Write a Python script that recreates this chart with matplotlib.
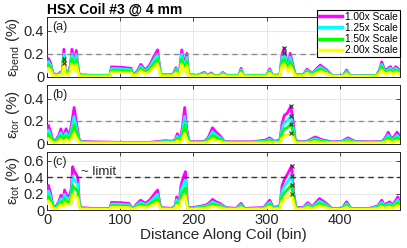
import numpy as np
import matplotlib
matplotlib.use("Agg")
import matplotlib.pyplot as plt
from matplotlib.ticker import FuncFormatter

plt.rcParams['font.family'] = ['Liberation Sans', 'DejaVu Sans']
plt.rcParams['mathtext.fontset'] = 'custom'
plt.rcParams['mathtext.rm'] = 'Liberation Sans'
plt.rcParams['mathtext.it'] = 'Liberation Sans:italic'

series_labels = ['1.00x Scale', '1.25x Scale', '1.50x Scale', '2.00x Scale']
series_colors = ['#ff00ff', '#00ffff', '#00ff00', '#ffff00']

# ---- panel (a): bending strain ----
bins_a = [0,2,5,8,14,18,21,23,25,29,32,34,37,40,42,44,60,86,88,100,115,118,124,128,134,140,147,151,155,172,
          176,179,181,184,187,191,193,205,215,219,224,228,236,240,245,262,265,268,300,304,308,318,321,324,327,330,332,336,339,350,
          355,362,373,382,390,404,409,414,450,454,457,461,465,469,473,476,480,482]
bend_100 = [0.10,0.16,0.12,0.03,0.02,0.04,0.05,0.24,0.05,0.04,0.10,0.24,0.12,0.23,0.10,0.02,0.015,0.015,0.088,0.085,
            0.075,0.01,0.06,0.11,0.06,0.10,0.19,0.235,0.02,0.02,0.08,0.02,0.05,0.235,0.10,0.205,0.02,0.015,0.04,0.015,
            0.035,0.015,0.015,0.04,0.015,0.015,0.075,0.015,0.015,0.07,0.015,0.02,0.20,0.25,0.15,0.10,0.205,0.10,0.02,0.02,
            0.068,0.03,0.103,0.06,0.01,0.01,0.06,0.01,0.015,0.06,0.13,0.06,0.07,0.09,0.05,0.09,0.07,0.04]
bend_125 = [0.084,0.134,0.101,0.025,0.017,0.034,0.042,0.2,0.042,0.034,0.084,0.2,0.101,0.193,0.084,0.017,0.013,0.013,0.074,0.071,
            0.063,0.008,0.05,0.092,0.05,0.084,0.16,0.197,0.017,0.017,0.067,0.017,0.042,0.197,0.084,0.172,0.017,0.013,0.034,0.013,
            0.029,0.013,0.013,0.034,0.013,0.013,0.063,0.013,0.013,0.059,0.013,0.017,0.168,0.206,0.126,0.084,0.172,0.084,0.017,0.017,
            0.057,0.025,0.087,0.05,0.008,0.008,0.05,0.008,0.013,0.05,0.109,0.05,0.059,0.076,0.042,0.076,0.059,0.034]
bend_150 = [0.066,0.106,0.079,0.02,0.013,0.026,0.033,0.16,0.033,0.026,0.066,0.155,0.079,0.152,0.066,0.013,0.01,0.01,0.058,0.056,
            0.05,0.007,0.04,0.073,0.04,0.066,0.125,0.155,0.013,0.013,0.053,0.013,0.033,0.155,0.066,0.135,0.013,0.01,0.026,0.01,
            0.023,0.01,0.01,0.026,0.01,0.01,0.05,0.01,0.01,0.046,0.01,0.013,0.132,0.155,0.099,0.066,0.135,0.066,0.013,0.013,
            0.045,0.02,0.068,0.04,0.007,0.007,0.04,0.007,0.01,0.04,0.086,0.04,0.046,0.059,0.033,0.059,0.046,0.026]
bend_200 = [0.048,0.077,0.058,0.014,0.01,0.019,0.024,0.12,0.024,0.019,0.048,0.115,0.058,0.11,0.048,0.01,0.007,0.007,0.042,0.041,
            0.036,0.005,0.029,0.053,0.029,0.048,0.091,0.113,0.01,0.01,0.038,0.01,0.024,0.113,0.048,0.098,0.01,0.007,0.019,0.007,
            0.017,0.007,0.007,0.019,0.007,0.007,0.036,0.007,0.007,0.034,0.007,0.01,0.096,0.115,0.072,0.048,0.098,0.048,0.01,0.01,
            0.033,0.014,0.049,0.029,0.005,0.005,0.029,0.005,0.007,0.029,0.062,0.029,0.034,0.043,0.024,0.043,0.034,0.019]

# ---- panel (b): torsional strain ----
bins_b = [0,2,5,8,12,16,19,22,26,30,33,37,41,44,47,60,100,140,155,162,170,175,178,182,185,188,191,194,200,215,
          220,226,231,236,242,250,280,298,304,310,318,321,324,328,333,336,339,345,355,366,377,390,403,411,420,440,458,463,466,470,
          474,478,482]
tor_100 = [0.12,0.16,0.10,0.03,0.03,0.07,0.13,0.05,0.13,0.06,0.15,0.32,0.15,0.03,0.02,0.015,0.01,0.01,0.02,0.025,
           0.02,0.03,0.087,0.02,0.15,0.32,0.12,0.02,0.015,0.02,0.05,0.14,0.10,0.07,0.02,0.015,0.015,0.03,0.05,0.02,
           0.03,0.18,0.25,0.27,0.33,0.20,0.03,0.015,0.02,0.058,0.03,0.015,0.02,0.05,0.02,0.015,0.02,0.06,0.10,0.04,
           0.06,0.10,0.06]
tor_125 = [0.09,0.12,0.074,0.022,0.022,0.052,0.096,0.037,0.096,0.044,0.11,0.24,0.11,0.022,0.015,0.011,0.007,0.007,0.015,0.018,
           0.015,0.022,0.064,0.015,0.11,0.24,0.089,0.015,0.011,0.015,0.037,0.104,0.074,0.052,0.015,0.011,0.011,0.022,0.037,0.015,
           0.022,0.133,0.185,0.2,0.245,0.148,0.022,0.011,0.015,0.043,0.022,0.011,0.015,0.037,0.015,0.011,0.015,0.044,0.074,0.03,
           0.044,0.074,0.044]
tor_150 = [0.062,0.083,0.052,0.016,0.016,0.036,0.068,0.026,0.068,0.031,0.078,0.166,0.078,0.016,0.01,0.008,0.005,0.005,0.01,0.013,
           0.01,0.016,0.045,0.01,0.078,0.166,0.062,0.01,0.008,0.01,0.026,0.073,0.052,0.036,0.01,0.008,0.008,0.016,0.026,0.01,
           0.016,0.094,0.13,0.14,0.172,0.104,0.016,0.008,0.01,0.03,0.016,0.008,0.01,0.026,0.01,0.008,0.01,0.031,0.052,0.021,
           0.031,0.052,0.031]
tor_200 = [0.034,0.045,0.028,0.008,0.008,0.02,0.036,0.014,0.036,0.017,0.042,0.09,0.042,0.008,0.006,0.004,0.003,0.003,0.006,0.007,
           0.006,0.008,0.024,0.006,0.042,0.09,0.034,0.006,0.004,0.006,0.014,0.039,0.028,0.02,0.006,0.004,0.004,0.008,0.014,0.006,
           0.008,0.05,0.07,0.076,0.092,0.056,0.008,0.004,0.006,0.016,0.008,0.004,0.006,0.014,0.006,0.004,0.006,0.017,0.028,0.011,
           0.017,0.028,0.017]

# ---- panel (c): total strain ----
bins_c = [0,2,5,8,12,16,19,22,24,27,31,33,35,37,39,42,44,46,60,86,88,100,112,117,122,128,134,140,147,151,
          155,170,175,177,180,183,186,189,192,200,217,222,226,231,236,244,258,265,270,296,304,309,318,321,324,329,334,337,340,350,
          356,362,372,380,389,403,409,415,440,452,457,461,464,468,472,475,479,482]
tot_100 = [0.22,0.30,0.2,0.05,0.04,0.1,0.18,0.12,0.245,0.17,0.18,0.25,0.53,0.48,0.45,0.40,0.1,0.03,0.02,0.02,
           0.094,0.09,0.08,0.01,0.07,0.12,0.08,0.12,0.2,0.245,0.03,0.02,0.05,0.16,0.06,0.3,0.4,0.47,0.03,0.03,
           0.06,0.09,0.13,0.1,0.08,0.03,0.02,0.08,0.02,0.03,0.12,0.03,0.05,0.3,0.37,0.45,0.54,0.2,0.03,0.03,
           0.09,0.04,0.14,0.09,0.02,0.02,0.1,0.02,0.02,0.05,0.12,0.05,0.08,0.1,0.06,0.1,0.16,0.08]
tot_125 = [0.172,0.234,0.156,0.039,0.031,0.078,0.14,0.094,0.191,0.133,0.14,0.195,0.413,0.374,0.351,0.312,0.078,0.023,0.016,0.016,
           0.073,0.07,0.062,0.008,0.055,0.094,0.062,0.094,0.156,0.191,0.023,0.016,0.039,0.125,0.047,0.234,0.312,0.367,0.023,0.023,
           0.047,0.07,0.101,0.078,0.062,0.023,0.016,0.062,0.016,0.023,0.094,0.023,0.039,0.234,0.289,0.351,0.42,0.156,0.023,0.023,
           0.07,0.031,0.109,0.07,0.016,0.016,0.078,0.016,0.016,0.039,0.094,0.039,0.062,0.078,0.047,0.078,0.125,0.062]
tot_150 = [0.125,0.171,0.114,0.029,0.023,0.057,0.103,0.068,0.14,0.097,0.103,0.143,0.302,0.274,0.257,0.228,0.057,0.017,0.011,0.011,
           0.054,0.051,0.046,0.006,0.04,0.068,0.046,0.068,0.114,0.14,0.017,0.011,0.029,0.091,0.034,0.171,0.228,0.268,0.017,0.017,
           0.034,0.051,0.074,0.057,0.046,0.017,0.011,0.046,0.011,0.017,0.068,0.017,0.029,0.171,0.211,0.257,0.308,0.114,0.017,0.017,
           0.051,0.023,0.08,0.051,0.011,0.011,0.057,0.011,0.011,0.029,0.068,0.029,0.046,0.057,0.034,0.057,0.091,0.046]
tot_200 = [0.081,0.111,0.074,0.019,0.015,0.037,0.067,0.044,0.091,0.063,0.067,0.093,0.196,0.178,0.167,0.148,0.037,0.011,0.007,0.007,
           0.035,0.033,0.03,0.004,0.026,0.044,0.03,0.044,0.074,0.091,0.011,0.007,0.019,0.059,0.022,0.111,0.148,0.174,0.011,0.011,
           0.022,0.033,0.048,0.037,0.03,0.011,0.007,0.03,0.007,0.011,0.044,0.011,0.019,0.111,0.137,0.167,0.2,0.074,0.011,0.011,
           0.033,0.015,0.052,0.033,0.007,0.007,0.037,0.007,0.007,0.019,0.044,0.019,0.03,0.037,0.022,0.037,0.059,0.03]

panels = [
    dict(bins=bins_a, series=[bend_100, bend_125, bend_150, bend_200], ylabel=r'$\mathrm{ε}_{\mathrm{bend}}$ (%)',
         tag='(a)', ylim=0.52, yticks=[0, 0.2, 0.4], limit=0.2, lcolor='#8c8c8c'),
    dict(bins=bins_b, series=[tor_100, tor_125, tor_150, tor_200], ylabel=r'$\mathrm{ε}_{\mathrm{tor}}$ (%)',
         tag='(b)', ylim=0.52, yticks=[0, 0.2, 0.4], limit=0.2, lcolor='#8c8c8c'),
    dict(bins=bins_c, series=[tot_100, tot_125, tot_150, tot_200], ylabel=r'$\mathrm{ε}_{\mathrm{tot}}$ (%)',
         tag='(c)', ylim=0.71, yticks=[0, 0.2, 0.4, 0.6], limit=0.4, lcolor='#333333'),
]
xticks = [0, 100, 200, 300, 400]

W, H = 407, 248
fig = plt.figure(figsize=(W / 100, H / 100), dpi=100)
boxes = [(17, 77), (85, 143.5), (152, 210)]
left, right = 47, 400
axc = '#262626'
handles = []
for i, (p, (top, bot)) in enumerate(zip(panels, boxes)):
    ax = fig.add_axes([left / W, 1 - bot / H, (right - left) / W, (bot - top) / H])
    for s, col in zip(p['series'], series_colors):
        ln, = ax.plot(p['bins'], s, color=col, lw=2.0, solid_joinstyle='round', zorder=3)
        if i == 0:
            handles.append(ln)
    for s in p['series']:
        k = int(np.argmax(s))
        ax.plot(p['bins'][k], s[k], marker='x', color='#333333', ms=3.5, mew=0.8, ls='none', zorder=5)
    ax.axhline(p['limit'], color=p['lcolor'], lw=1.0, ls=(0, (4, 3)), zorder=4)
    ax.set_xlim(0, 482)
    ax.set_ylim(0, p['ylim'])
    ax.set_xticks(xticks)
    ax.set_yticks(p['yticks'])
    ax.yaxis.set_major_formatter(FuncFormatter(lambda v, _: '%g' % v))
    ax.grid(True, color='#e3e3e3', lw=0.6, zorder=0)
    ax.set_axisbelow(True)
    ax.tick_params(direction='in', length=3, width=0.6, colors=axc, labelsize=10.5,
                   top=True, right=True, pad=2)
    for sp in ax.spines.values():
        sp.set_color(axc)
        sp.set_linewidth(0.7)
    if i < 2:
        ax.tick_params(labelbottom=False)
    else:
        ax.set_xlabel('Distance Along Coil (bin)', fontsize=11, labelpad=1, color='#262626')
    ax.text(0.016, 0.93, p['tag'], transform=ax.transAxes, va='top', ha='left', fontsize=9, color='#262626')
    fig.text(13 / W, 1 - ((top + bot) / 2) / H, p['ylabel'], rotation=90, ha='center', va='center',
             fontsize=11, color='#262626')
    if i == 2:
        ax.text(46, 0.428, '~ limit', fontsize=9.5, va='baseline', ha='left', color='#262626')

fig.text(47 / W, 1 - 14 / H, 'HSX Coil #3 @ 4 mm', fontsize=10, fontweight='bold', va='baseline', ha='left')
leg = fig.legend(handles, series_labels, loc='upper right', bbox_to_anchor=(400 / W, 1 - 10 / H),
                 fontsize=7.3, frameon=True, fancybox=False, edgecolor='black', framealpha=1,
                 handlelength=2.3, handletextpad=0.3, labelspacing=0.1, borderpad=0.2, borderaxespad=0)
leg.get_frame().set_linewidth(0.8)
for h in leg.get_lines():
    h.set_linewidth(2.5)
fig.savefig('out.png', dpi=100)
